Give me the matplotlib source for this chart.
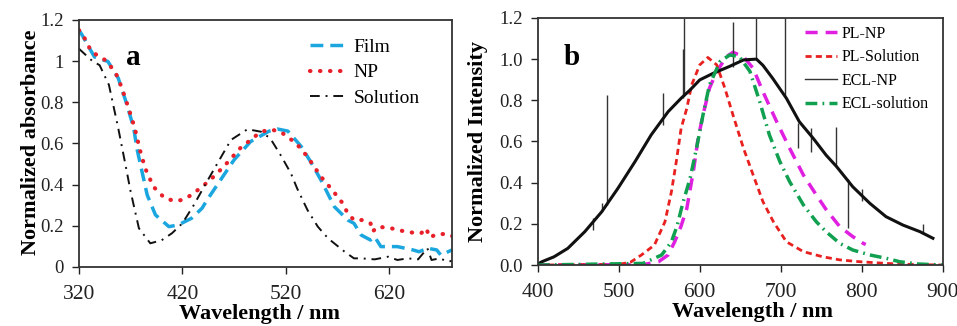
import matplotlib
matplotlib.use("Agg")
from matplotlib import pyplot as plt

plt.rcParams['font.family'] = ['Liberation Serif', 'DejaVu Serif']

# panel a: absorbance
film_wl = [320, 323, 335, 348, 358, 366, 373, 376, 381, 386, 394, 407, 416, 429, 439, 444, 457, 470, 486,
           504, 512, 522, 535, 544, 554, 567, 580, 586, 593, 602, 606, 612, 628, 643, 649, 657, 666, 670, 681]
film = [1.15, 1.127, 1.02, 0.998, 0.917, 0.795, 0.674, 0.577, 0.463, 0.35, 0.253, 0.196, 0.204, 0.237, 0.285,
        0.326, 0.423, 0.52, 0.609, 0.66, 0.67, 0.66, 0.585, 0.512, 0.423, 0.293, 0.228, 0.212, 0.155, 0.131,
        0.147, 0.099, 0.099, 0.083, 0.074, 0.091, 0.083, 0.058, 0.083]

np_wl = [320, 323, 332, 345, 355, 361, 368, 374, 379, 384, 392, 403, 413, 420, 429, 441, 447, 460, 476, 496,
         506, 515, 530, 541, 554, 565, 575, 580, 586, 594, 602, 604, 609, 622, 638, 651, 656, 659, 667, 677, 681]
np_abs = [1.15, 1.135, 1.046, 1.006, 0.949, 0.876, 0.771, 0.674, 0.568, 0.48, 0.39, 0.334, 0.32, 0.326, 0.35,
          0.398, 0.423, 0.487, 0.577, 0.657, 0.667, 0.657, 0.601, 0.536, 0.439, 0.374, 0.31, 0.26, 0.228, 0.228,
          0.212, 0.172, 0.196, 0.188, 0.169, 0.164, 0.188, 0.144, 0.16, 0.16, 0.15]

sol_wl = [320, 323, 333, 340, 349, 358, 365, 370, 378, 389, 400, 410, 420, 431, 441, 454, 467, 483, 496, 505,
          515, 525, 531, 541, 551, 561, 577, 586, 593, 606, 619, 628, 638, 648, 657, 661, 669, 677, 681]
sol = [1.06, 1.046, 1.0, 0.98, 0.884, 0.674, 0.496, 0.366, 0.188, 0.115, 0.13, 0.164, 0.212, 0.3, 0.39, 0.504,
       0.617, 0.669, 0.657, 0.625, 0.544, 0.455, 0.382, 0.277, 0.196, 0.139, 0.074, 0.042, 0.042, 0.037, 0.05,
       0.034, 0.042, 0.037, 0.091, 0.034, 0.042, 0.026, 0.03]

a_xticks = [320, 420, 520, 620]
a_yticks = [0, 0.2, 0.4, 0.6, 0.8, 1, 1.2]
a_yticklabels = ['0', '0.2', '0.4', '0.6', '0.8', '1', '1.2']

# panel b: emission
plnp_wl = [400, 530, 549, 561, 569, 577, 584, 592, 598, 604, 612, 621, 633, 641, 654, 666, 678, 695, 711, 728,
           744, 756, 773, 789, 802, 805]
plnp = [0, 0.002, 0.016, 0.049, 0.113, 0.19, 0.275, 0.453, 0.616, 0.729, 0.859, 0.94, 1.012, 1.033, 1.012,
        0.955, 0.842, 0.696, 0.567, 0.437, 0.34, 0.27, 0.186, 0.138, 0.105, 0.1]

plsol_wl = [400, 500, 515, 528, 544, 557, 565, 571, 577, 584, 590, 600, 610, 621, 631, 641, 654, 666, 678, 691,
            707, 728, 752, 773, 798, 830, 860, 900]
plsol = [0, 0.003, 0.015, 0.049, 0.097, 0.21, 0.356, 0.502, 0.664, 0.761, 0.875, 0.972, 1.008, 0.972, 0.859,
         0.729, 0.567, 0.437, 0.308, 0.21, 0.113, 0.065, 0.04, 0.025, 0.016, 0.008, 0.003, 0]

eclnp_wl = [400, 405, 420, 437, 458, 479, 499, 520, 540, 561, 577, 588, 600, 616, 637, 654, 670, 678, 690, 707,
            723, 740, 756, 769, 789, 810, 830, 851, 872, 888]
eclnp = [0.005, 0.016, 0.04, 0.081, 0.162, 0.259, 0.373, 0.502, 0.632, 0.745, 0.81, 0.85, 0.899, 0.93, 0.965,
         0.996, 1.0, 0.97, 0.907, 0.81, 0.696, 0.616, 0.534, 0.478, 0.38, 0.3, 0.235, 0.194, 0.162, 0.13]

# spikes on the ECL-NP trace
spike_wl = [468, 479, 485, 554, 579, 581, 641, 670, 705, 721, 738, 768, 783, 800, 876]
spike_lo = [0.17, 0.26, 0.29, 0.68, 0.81, 0.82, 0.96, 1.0, 0.82, 0.57, 0.55, 0.48, 0.18, 0.31, 0.15]
spike_hi = [0.227, 0.3, 0.826, 0.834, 1.05, 1.2, 1.182, 1.2, 1.2, 0.69, 0.665, 0.672, 0.42, 0.37, 0.2]

eclsol_wl = [400, 530, 553, 565, 572, 579, 588, 596, 604, 612, 625, 637, 649, 662, 674, 686, 699, 711, 728, 744,
             756, 773, 789, 810, 830, 847, 870, 900]
eclsol = [0, 0.008, 0.049, 0.113, 0.19, 0.3, 0.42, 0.567, 0.729, 0.875, 0.988, 1.02, 1.012, 0.94, 0.794, 0.632,
          0.502, 0.405, 0.292, 0.21, 0.162, 0.105, 0.073, 0.049, 0.033, 0.016, 0.005, 0]

b_xticks = [400, 500, 600, 700, 800, 900]
b_yticks = [0, 0.2, 0.4, 0.6, 0.8, 1.0, 1.2]

fig = plt.figure(figsize=(9.57, 3.26), dpi=100)
ax1 = fig.add_axes([0.0825, 0.181, 0.39, 0.758])
ax2 = fig.add_axes([0.562, 0.187, 0.423, 0.758])

# ---- panel a
ax1.plot(film_wl, film, color='#1ba6e0', lw=2.5, dashes=(3.7, 2.0), label='Film')
ax1.plot(np_wl, np_abs, color='#e8202a', lw=3, dashes=(0.1, 2.3), dash_capstyle='round', label='NP')
ax1.plot(sol_wl, sol, color='#111111', lw=1.4, dashes=(5, 3, 1, 3), label='Solution')
ax1.set_xlim(320, 681)
ax1.set_ylim(0, 1.2)
ax1.set_xticks(a_xticks)
ax1.set_yticks(a_yticks)
ax1.set_yticklabels(a_yticklabels)
ax1.set_xlabel('Wavelength / nm', fontsize=16, fontweight='bold')
ax1.set_ylabel('Normalized absorbance', fontsize=16, fontweight='bold')
ax1.xaxis.set_label_coords(0.483, -0.148)
ax1.yaxis.set_label_coords(-0.102, 0.506)
ax1.text(0.145, 0.818, 'a', transform=ax1.transAxes, fontsize=21, fontweight='bold', ha='center')
ax1.legend(loc='upper left', bbox_to_anchor=(0.619, 0.925), frameon=False, fontsize=14,
           borderaxespad=0, borderpad=0, handlelength=1.8, handletextpad=0.45, labelspacing=0.4)

# ---- panel b
ax2.plot(plnp_wl, plnp, color='#e020e0', lw=2.5, dashes=(3.5, 2.3), label='PL-NP')
ax2.plot(plsol_wl, plsol, color='#e82020', lw=2, dashes=(2.2, 1.5), label='PL-Solution')
ax2.vlines(spike_wl, spike_lo, spike_hi, color='#333333', lw=1)
ax2.plot(eclnp_wl, eclnp, color='#111111', lw=2.2, label='ECL-NP')
ax2.plot(eclsol_wl, eclsol, color='#10a050', lw=2.5, dashes=(3.4, 1.5, 0.5, 1.5), label='ECL-solution')
ax2.set_xlim(400, 900)
ax2.set_ylim(0, 1.2)
ax2.set_xticks(b_xticks)
ax2.set_yticks(b_yticks)
ax2.set_yticklabels(['%.1f' % v for v in b_yticks])
ax2.set_xlabel('Wavelength / nm', fontsize=16, fontweight='bold')
ax2.set_ylabel('Normalized Intensity', fontsize=16, fontweight='bold')
ax2.xaxis.set_label_coords(0.53, -0.15)
ax2.yaxis.set_label_coords(-0.123, 0.5)
ax2.text(0.084, 0.81, 'b', transform=ax2.transAxes, fontsize=21, fontweight='bold', ha='center')
leg = ax2.legend(loc='upper left', bbox_to_anchor=(0.659, 0.968), frameon=False, fontsize=11.5,
                 borderaxespad=0, borderpad=0, handlelength=2.0, handletextpad=0.3, labelspacing=0.47)
leg.get_lines()[2].set_linewidth(1)
leg.get_lines()[2].set_color('#333333')

for ax in (ax1, ax2):
    ax.tick_params(direction='out', length=5, width=1, colors='#222222')
    ax.tick_params(axis='x', labelsize=15.5, pad=8)
    ax.tick_params(axis='y', labelsize=13.5, pad=6)
    for s in ax.spines.values():
        s.set_linewidth(1.3)
        s.set_color('#333333')

fig.savefig('out.png', dpi=100)
